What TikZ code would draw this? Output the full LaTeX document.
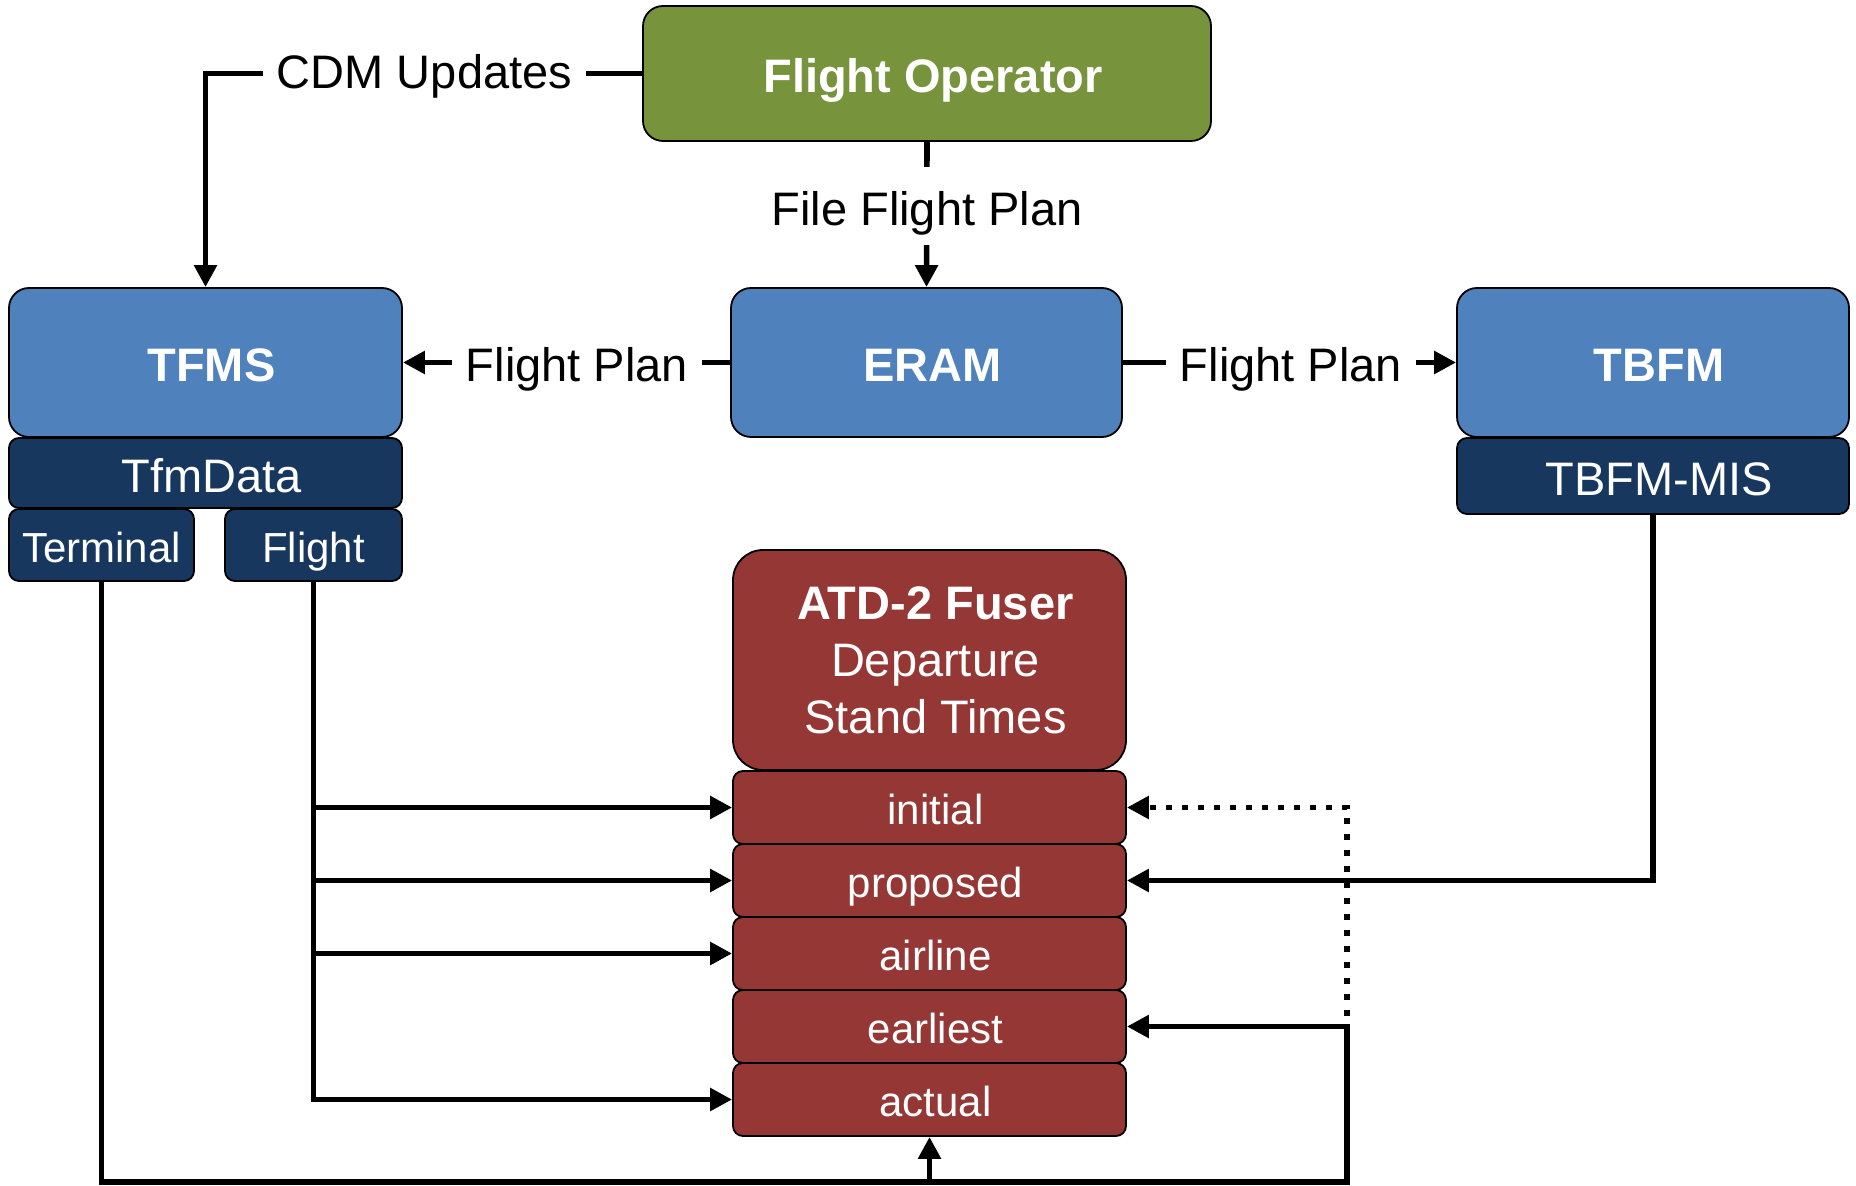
\documentclass[tikz,border=0pt]{standalone}
\usepackage{fontspec}
\setmainfont{Liberation Sans}
\usetikzlibrary{arrows.meta,calc}
\definecolor{fogreen}{HTML}{77933C}
\definecolor{midblue}{HTML}{4F81BD}
\definecolor{darkblue}{HTML}{17375E}
\definecolor{darkred}{HTML}{953735}
\tikzset{
  basebox/.style={draw=black, line width=0.9pt, text=white, align=center, inner sep=0pt},
  shifted/.style={execute at begin node=\hspace*{6pt}},
  bigbox/.style={basebox, shifted, text height=19.3pt, text depth=0pt, rounded corners=10pt, font=\bfseries\fontsize{23.5}{28}\selectfont},
  subbox/.style={basebox, text height=17.2pt, text depth=0pt, rounded corners=5pt, font=\fontsize{21}{25}\selectfont},
  midsub/.style={basebox, shifted, text height=19.3pt, text depth=0pt, rounded corners=5pt, font=\fontsize{23.5}{28}\selectfont},
  conn/.style={line width=2.8pt, -{Triangle[length=11pt,width=11pt]}},
  dotline/.style={dash pattern=on 2.8pt off 5.2pt},
  lbl/.style={fill=white, inner xsep=7pt, inner ysep=10pt, text height=19.3pt, text depth=0pt,
              text=black, font=\fontsize{23.5}{28}\selectfont},
}
\begin{document}
\begin{tikzpicture}[x=0.5pt,y=-0.5pt]
\useasboundingbox (0,0) rectangle (1856,1186);

% main boxes
\node[bigbox, fill=fogreen, minimum width=284pt, minimum height=67.5pt] (fo) at (927,73.5) {Flight Operator};
\node[bigbox, fill=midblue, minimum width=196.5pt, minimum height=74.5pt] (tfms) at (205.5,362.5) {TFMS};
\node[bigbox, fill=midblue, minimum width=195.5pt, minimum height=74.5pt] (eram) at (926.5,362.5) {ERAM};
\node[bigbox, fill=midblue, minimum width=196pt, minimum height=74.5pt] (tbfm) at (1653,362.5) {TBFM};

% sub boxes
\node[midsub, fill=darkblue, minimum width=196.5pt, minimum height=35pt] (tfmdata) at (205.5,473) {TfmData};
\node[subbox, fill=darkblue, minimum width=92.5pt, minimum height=36pt] (terminal) at (101.5,545) {Terminal};
\node[subbox, fill=darkblue, minimum width=88.5pt, minimum height=36pt] (flight) at (313.5,545) {Flight};
\node[midsub, fill=darkblue, minimum width=196pt, minimum height=38pt] (mis) at (1653,476) {TBFM-MIS};

% fuser
\node[basebox, fill=darkred, rounded corners=15pt, minimum width=196.5pt, minimum height=110pt,
      font=\fontsize{23.5}{28.5}\selectfont] (fuser) at (929.5,660)
      {\hspace*{6pt}\textbf{ATD-2 Fuser}\\\hspace*{6pt}Departure\\\hspace*{6pt}Stand Times};
\node[subbox, shifted, fill=darkred, minimum width=196.5pt, minimum height=36.5pt] (initial) at (929.5,807.5) {initial};
\node[subbox, shifted, fill=darkred, minimum width=196.5pt, minimum height=36.5pt] (proposed) at (929.5,880.5) {proposed};
\node[subbox, shifted, fill=darkred, minimum width=196.5pt, minimum height=36.5pt] (airline) at (929.5,953.5) {airline};
\node[subbox, shifted, fill=darkred, minimum width=196.5pt, minimum height=36.5pt] (earliest) at (929.5,1026.5) {earliest};
\node[subbox, shifted, fill=darkred, minimum width=196.5pt, minimum height=36.5pt] (actual) at (929.5,1099.5) {actual};

% top connectors
\draw[conn] (fo.west) -| (tfms.north);
\draw[conn] (fo.south) -- (eram.north);
\draw[conn] (eram.west) -- (tfms.east);
\draw[conn] (eram.east) -- (tbfm.west);
\node[lbl] (cdm) at (424.5,69) {CDM Updates};
\node[lbl] (ffp) at (927,206) {File Flight Plan};
\node[lbl] (fpl) at (577,362.5) {Flight Plan};
\node[lbl] (fpr) at (1291,362.5) {Flight Plan};

% flight branches
\draw[conn] (flight.south) |- (actual.west);
\draw[conn] (flight.south) |- (initial.west);
\draw[conn] (flight.south) |- (proposed.west);
\draw[conn] (flight.south) |- (airline.west);

% terminal route
\coordinate (br) at (1347,1182);
\coordinate (bm) at (actual.south |- br);
\coordinate (ds) at (1347,1016);
\draw[conn] (terminal.south) |- (br) |- (earliest.east);
\draw[conn] (bm) -- (actual.south);
\draw[conn, dotline] (ds) |- (initial.east);

% TBFM-MIS
\draw[conn] (mis.south) |- (proposed.east);
\end{tikzpicture}
\end{document}
